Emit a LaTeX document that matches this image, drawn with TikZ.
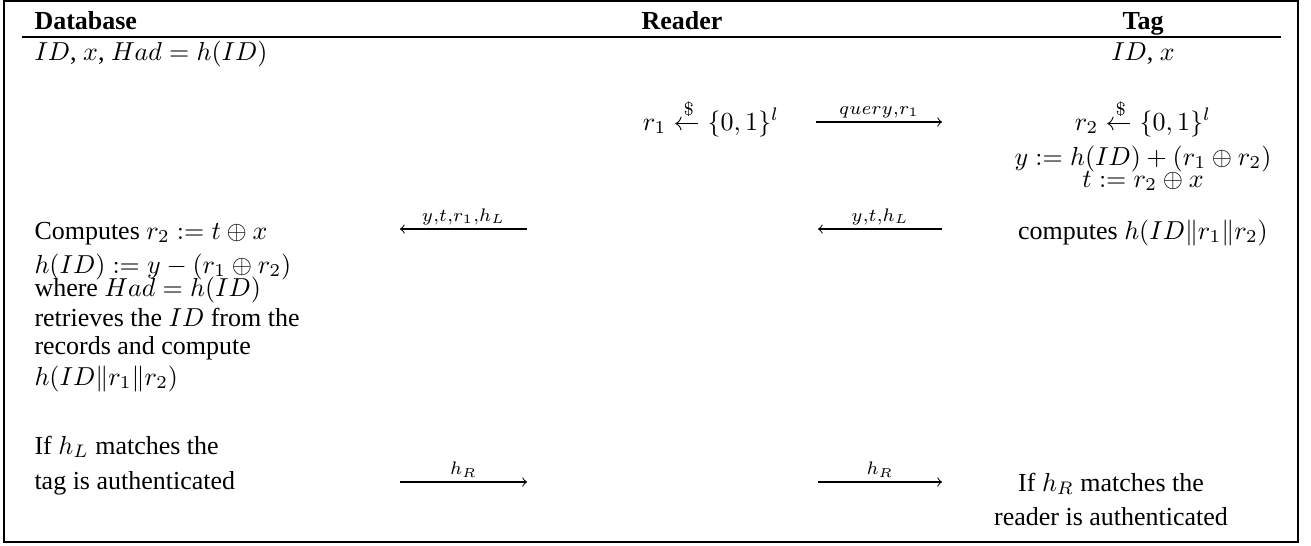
\documentclass[tikz,border=0pt]{standalone}
\usepackage{amsmath}
\usepackage{fontspec}
\setmainfont{Liberation Serif}
\begin{document}
\begin{tikzpicture}[x=0.385pt,y=-0.385pt,
  txt/.style={inner sep=0pt, font=\normalsize},
  lt/.style={txt, anchor=base west},
  ct/.style={txt, anchor=base},
  hd/.style={txt, anchor=base, font=\bfseries},
  msg/.style={->, line width=0.4pt},
  lbl/.style={inner sep=1.5pt, above, font=\scriptsize}]
\useasboundingbox (0,0) rectangle (1311,545);
\draw[line width=0.8pt] (4,1) rectangle (1298,542);
% header
\node[hd, anchor=base west] (dbh) at (34,29) {Database};
\node[hd] (rdh) at (682,29) {Reader};
\node[hd] (tgh) at (1143,29) {Tag};
\coordinate (rl) at (22,37);
\coordinate (rr) at (1281,37);
\draw[line width=0.6pt] (rl) -- (rr);
% first row
\node[lt] (db0) at (34,60) {$ID$, $x$, $Had=h(ID)$};
\node[ct] (tg0) at (1143,60) {$ID$, $x$};
% reader random
\node[ct] (rd1) at (711,130) {$r_1 \xleftarrow{\$} \{0,1\}^l$};
\coordinate (q1) at (816,122);
\coordinate (q2) at (942,122);
\draw[msg] (q1) -- node[lbl] {$query{,}r_1$} (q2);
% tag computations
\node[ct] (tg1) at (1143,130) {$r_2 \xleftarrow{\$} \{0,1\}^l$};
\node[ct] (tg2) at (1143,165) {$y:=h(ID)+(r_1\oplus r_2)$};
\node[ct] (tg3) at (1143,187) {$t:=r_2\oplus x$};
\node[ct] (tg4) at (1143,239) {computes $h(ID\|r_1\|r_2)$};
% messages to database
\coordinate (a2s) at (942,229);
\coordinate (a2e) at (818,229);
\draw[msg] (a2s) -- node[lbl] {$y{,}t{,}h_L$} (a2e);
\coordinate (a1s) at (527,229);
\coordinate (a1e) at (400,229);
\draw[msg] (a1s) -- node[lbl] {$y{,}t{,}r_1{,}h_L$} (a1e);
% database computations
\node[lt] (db1) at (34,239) {Computes $r_2:=t\oplus x$};
\node[lt] (db2) at (34,273) {$h(ID):=y-(r_1\oplus r_2)$};
\node[lt] (db3) at (34,296) {where $Had=h(ID)$};
\node[lt] (db4) at (34,326) {retrieves the $ID$ from the};
\node[lt] (db5) at (34,354) {records and compute};
\node[lt] (db6) at (34,385) {$h(ID\|r_1\|r_2)$};
\node[lt] (db7) at (34,454) {If $h_L$ matches the};
\node[lt] (db8) at (34,489) {tag is authenticated};
% final messages
\coordinate (b1s) at (400,482);
\coordinate (b1e) at (527,482);
\draw[msg] (b1s) -- node[lbl] {$h_R$} (b1e);
\coordinate (b2s) at (818,482);
\coordinate (b2e) at (942,482);
\draw[msg] (b2s) -- node[lbl] {$h_R$} (b2e);
\node[ct] (tg5) at (1111,491) {If $h_R$ matches the};
\node[ct] (tg6) at (1111,525) {reader is authenticated};
\end{tikzpicture}
\end{document}
